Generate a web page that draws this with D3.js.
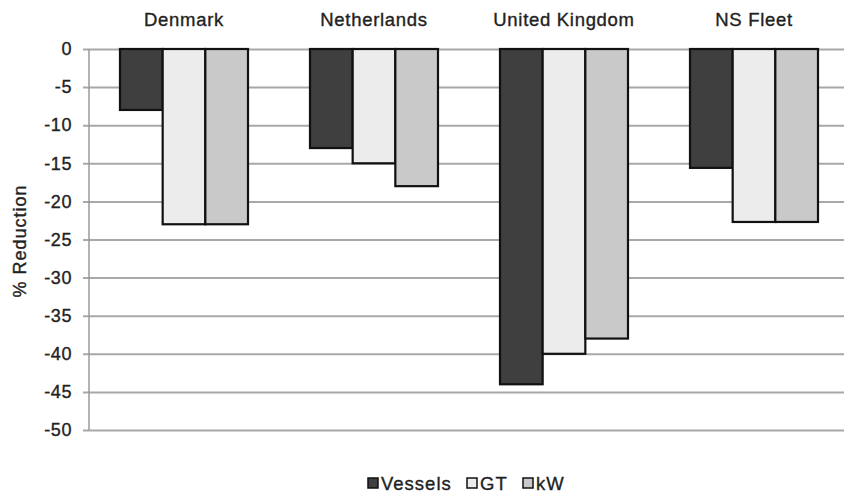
<!DOCTYPE html>
<html>
<head>
<meta charset="utf-8">
<script src="https://cdn.jsdelivr.net/npm/d3@7"></script>
<style>
  html, body { margin: 0; padding: 0; background: #fff; }
  svg { display: block; font-family: "Liberation Sans", Arial, sans-serif; }
  text { stroke: #222; stroke-width: 0.35px; fill: #222; }
</style>
</head>
<body>
<svg id="chart" width="844" height="495"></svg>
<script>
// Fleet capacity reduction by country, per measure
const categories = ["Denmark", "Netherlands", "United Kingdom", "NS Fleet"];
const seriesNames = ["Vessels", "GT", "kW"];
const vessels = [-8, -13, -44, -15.6];
const gt = [-23, -15, -40, -22.7];
const kw = [-23, -18, -38, -22.7];
const yTicks = [0, -5, -10, -15, -20, -25, -30, -35, -40, -45, -50];

const seriesValues = [vessels, gt, kw];
const fills = ["#3f3f3f", "#ececec", "#c9c9c9"];

const svg = d3.select("#chart");
const plot = { left: 89, right: 849, top: 49, bottom: 430 };

const x0 = d3.scaleBand().domain(categories).range([plot.left, plot.right]).padding(0);
const x1 = d3.scaleBand().domain(seriesNames)
  .range([31, x0.bandwidth() - 31]).padding(0);
const y = d3.scaleLinear().domain([-50, 0]).range([plot.bottom, plot.top]);

// horizontal gridlines with short outer ticks
const yAxis = d3.axisLeft(y).tickValues(yTicks).tickSize(-(plot.right - plot.left)).tickSizeOuter(0)
  .tickFormat(d => String(d));
const gy = svg.append("g").attr("transform", `translate(${plot.left},0)`).call(yAxis);
gy.select(".domain").remove();
gy.selectAll(".tick line").attr("stroke", "#a8a8a8").attr("stroke-width", 2)
  .attr("x1", -6);
gy.selectAll(".tick text").attr("font-size", 18).attr("fill", null)
  .attr("letter-spacing", 0.6)
  .attr("x", -17);

// vertical axis line
svg.append("line").attr("x1", plot.left).attr("x2", plot.left)
  .attr("y1", plot.top).attr("y2", plot.bottom)
  .attr("stroke", "#9a9a9a").attr("stroke-width", 1.5);

// bars
const groups = svg.append("g").selectAll("g").data(categories).join("g")
  .attr("transform", d => `translate(${x0(d)},0)`);
groups.selectAll("rect")
  .data((c, i) => seriesNames.map((s, j) => ({ s, j, v: seriesValues[j][i] })))
  .join("rect")
  .attr("x", d => x1(d.s))
  .attr("y", y(0))
  .attr("width", x1.bandwidth())
  .attr("height", d => y(d.v) - y(0))
  .attr("fill", d => fills[d.j])
  .attr("stroke", "#111")
  .attr("stroke-width", 2.2);

// category labels along the top
svg.append("g").selectAll("text").data(categories).join("text")
  .attr("x", d => x0(d) + x0.bandwidth() / 2)
  .attr("y", 26)
  .attr("text-anchor", "middle")
  .attr("font-size", 18.5)
  .attr("letter-spacing", 0.7)
  .text(d => d);

// y-axis title
svg.append("text")
  .attr("transform", "translate(26,241) rotate(-90)")
  .attr("text-anchor", "middle")
  .attr("font-size", 18)
  .attr("letter-spacing", 1)
  .text("% Reduction");

// legend
const legendItems = [
  { name: "Vessels", x: 368 },
  { name: "GT", x: 467 },
  { name: "kW", x: 523 }
];
const lg = svg.append("g").selectAll("g").data(legendItems).join("g")
  .attr("transform", d => `translate(${d.x},478)`);
lg.append("rect").attr("width", 10).attr("height", 10)
  .attr("fill", (d, i) => fills[i]).attr("stroke", "#111").attr("stroke-width", 1.5);
lg.append("text").attr("x", 13).attr("y", 11.5)
  .attr("font-size", 18.5).attr("letter-spacing", 1)
  .text(d => d.name);
</script>
</body>
</html>
